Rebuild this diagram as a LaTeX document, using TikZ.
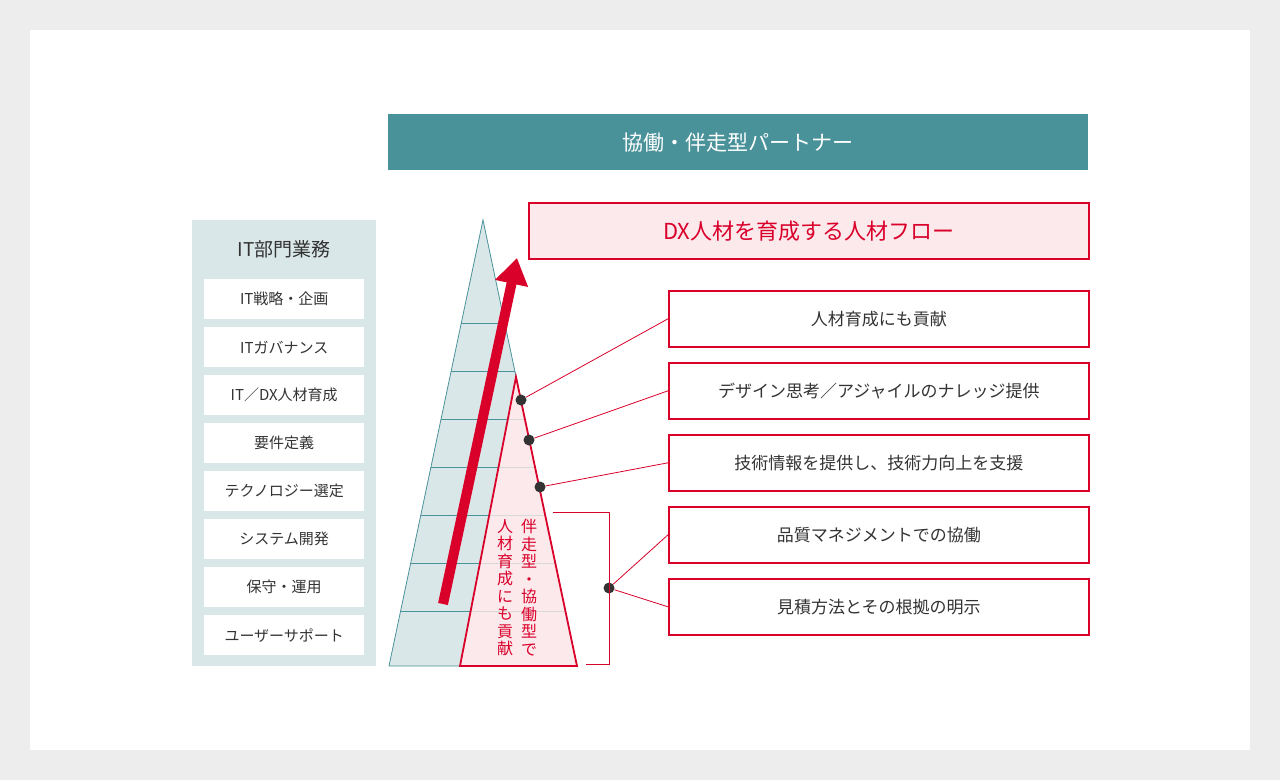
\documentclass[tikz,border=0pt]{standalone}
\usepackage{fontspec}
\setmainfont{Noto Sans CJK JP}
\newfontfamily\jpb{Noto Sans CJK JP Medium}
\usetikzlibrary{arrows.meta}
\definecolor{teal1}{HTML}{4A9299}
\definecolor{lteal}{HTML}{DAE7E8}
\definecolor{red1}{HTML}{D9002A}
\definecolor{pink1}{HTML}{FCE9EC}
\definecolor{txt}{HTML}{333333}
\begin{document}
\begin{tikzpicture}[x=1pt,y=-1pt,
 rbox/.style={draw=red1,line width=1.6pt,fill=white,minimum width=420pt,minimum height=56pt,anchor=north west,font=\fontsize{17}{17}\selectfont,text=txt},
 lbox/.style={fill=white,minimum width=160pt,minimum height=40pt,anchor=north west,font=\fontsize{15}{15}\selectfont,text=txt},
 dot/.style={circle,fill=txt,inner sep=0pt,minimum size=11pt},
 conn/.style={red1,line width=0.8pt}]
\fill[black!7] (0,0) rectangle (1280,780);
\fill[white] (30,30) rectangle (1250,750);
\node[fill=teal1,minimum width=700pt,minimum height=56pt,anchor=north west,text=white,font=\fontsize{21}{21}\selectfont] (hdr) at (388,114) {協働・伴走型パートナー};
\node[draw=red1,line width=1.6pt,fill=pink1,minimum width=560pt,minimum height=56pt,anchor=north west,text=red1,font=\fontsize{22}{22}\selectfont] (dx) at (528,202) {DX人材を育成する人材フロー};
% left panel
\fill[lteal] (192,220) rectangle (376,666);
\node[font=\fontsize{19}{19}\selectfont,text=txt] (lt) at (284,249) {IT部門業務};
\foreach \t [count=\i from 0] in {IT戦略・企画,ITガバナンス,IT／DX人材育成,要件定義,テクノロジー選定,システム開発,保守・運用,ユーザーサポート}
  \node[lbox] (l\i) at (204,279+48*\i) {\t};
% big triangle
\fill[lteal] (483,220) -- (577,666) -- (389,666) -- cycle;
\begin{scope}
\clip (483,220) -- (577,666) -- (389,666) -- cycle;
\foreach \y in {323,371,...,611} \draw[teal1,line width=0.8pt] (380,\y) -- (600,\y);
\end{scope}
\draw[teal1,line width=0.8pt] (483,220) -- (577,666) -- (389,666) -- cycle;
% red triangle
\fill[pink1] (516,377) -- (577,666) -- (460,666) -- cycle;
\begin{scope}
\clip (516,377) -- (577,666) -- (460,666) -- cycle;
\foreach \y in {419,467,...,611} \draw[black!15,line width=0.8pt] (440,\y) -- (600,\y);
\end{scope}
\draw[red1,line width=1.8pt,line join=miter] (516,377) -- (577,666) -- (460,666) -- cycle;
% arrow
\coordinate (as) at (443,604);
\coordinate (ae) at (517,258);
\draw[red1,line width=10pt,-{Triangle[length=26pt,width=32pt]}] (as) -- (ae);
% vertical text
\node[text=red1,align=center,font=\fontsize{16}{17.5}\selectfont,anchor=north] (v1) at (529,516) {伴\\走\\型\\・\\協\\働\\型\\で};
\node[text=red1,align=center,font=\fontsize{16}{17.5}\selectfont,anchor=north] (v2) at (505,516) {人\\材\\育\\成\\に\\も\\貢\\献};
% right boxes
\foreach \t [count=\i from 0] in {人材育成にも貢献,デザイン思考／アジャイルのナレッジ提供,技術情報を提供し、技術力向上を支援,品質マネジメントでの協働,見積方法とその根拠の明示}
  \node[rbox] (r\i) at (668,290+72*\i) {\t};
% dots
\node[dot] (d1) at (521,400) {};
\node[dot] (d2) at (529,440) {};
\node[dot] (d3) at (540,487) {};
\node[dot] (d4) at (609,588) {};
\draw[conn] (d1) -- (r0.west);
\draw[conn] (d2) -- (r1.west);
\draw[conn] (d3) -- (r2.west);
\draw[conn] (d4) -- (r3.west);
\draw[conn] (d4) -- (r4.west);
\coordinate (b1) at (553,512);
\coordinate (b2) at (586,664);
\draw[conn] (b1) -- (609,512) -- (609,664) -- (b2);
\end{tikzpicture}
\end{document}
